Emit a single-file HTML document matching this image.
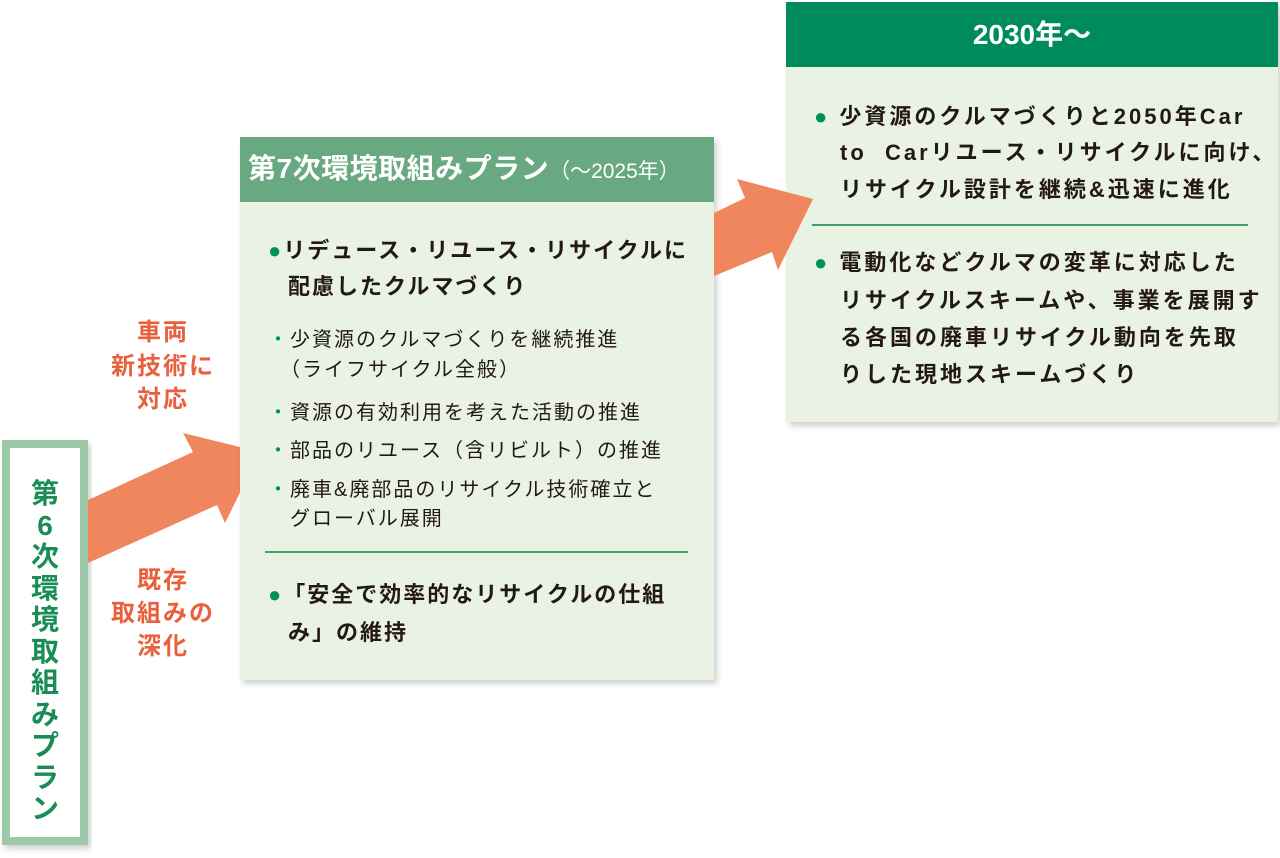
<!DOCTYPE html>
<html><head><meta charset="utf-8"><style>
body{margin:0;width:1280px;height:858px;background:#fff;position:relative;overflow:hidden;font-family:"Liberation Sans","Noto Sans CJK JP",sans-serif;}
.a{position:absolute;white-space:nowrap;line-height:1;}
.b{font-weight:bold;color:#231815;font-size:22px;letter-spacing:2px;}
.c{font-weight:bold;color:#231815;font-size:22px;letter-spacing:3px;}
.s{color:#231815;font-size:20px;letter-spacing:2px;}
.o{color:#e8603c;font-weight:bold;font-size:24px;letter-spacing:2px;width:124px;text-align:center;}
.dot{color:#00915a;}
</style></head><body>
<svg width="1280" height="858" style="position:absolute;left:0;top:0">
<defs><filter id="sh" x="-10%" y="-10%" width="120%" height="120%"><feDropShadow dx="3" dy="4" stdDeviation="3" flood-color="#000" flood-opacity="0.18"/></filter></defs>
<rect x="6" y="444" width="78" height="397" fill="#fff" stroke="#9ec9a8" stroke-width="8" filter="url(#sh)"/>
<polygon points="88,500 193,452 183,433 260,452 225,523 217,505 88,563" fill="#ef865e"/>
<rect x="240" y="137" width="474" height="543" fill="#eaf3e3" filter="url(#sh)"/>
<rect x="240" y="137" width="474" height="65" fill="#68a982"/>
<line x1="265" y1="552" x2="688" y2="552" stroke="#3fa06a" stroke-width="2"/>
<rect x="786" y="2" width="492" height="420" fill="#eaf3e3" filter="url(#sh)"/>
<rect x="786" y="2" width="492" height="65" fill="#008c5a"/>
<line x1="812" y1="225" x2="1248" y2="225" stroke="#3fa06a" stroke-width="2"/>
<polygon points="714,213 745,198 737,179 813,199 778,270 772,252 714,276" fill="#ef865e"/>
</svg>
<div class="a" style="left:30px;top:478px;width:30px;text-align:center;color:#1a8c55;font-weight:bold;font-size:28px;line-height:31.5px;white-space:normal">第<br>6<br>次<br>環<br>境<br>取<br>組<br>み<br>プ<br>ラ<br>ン</div>
<div class="a o" style="left:101px;top:316px;line-height:33.5px">車両<br>新技術に<br>対応</div>
<div class="a o" style="left:101px;top:564px;line-height:33px">既存<br>取組みの<br>深化</div>
<div class="a" style="left:248px;top:155px;color:#fff;font-size:28px;font-weight:bold;letter-spacing:0.5px">第7次環境取組みプラン<span style="font-weight:normal;font-size:21px;letter-spacing:0">（～2025年）</span></div>
<div class="a b" style="left:268px;top:240px"><span class="dot">●</span>リデュース・リユース・リサイクルに</div>
<div class="a b" style="left:288px;top:276px">配慮したクルマづくり</div>
<div class="a s" style="left:268px;top:330px"><span class="dot">・</span>少資源のクルマづくりを継続推進</div>
<div class="a s" style="left:280px;top:360px">（ライフサイクル全般）</div>
<div class="a s" style="left:268px;top:403px"><span class="dot">・</span>資源の有効利用を考えた活動の推進</div>
<div class="a s" style="left:268px;top:441px"><span class="dot">・</span>部品のリユース（含リビルト）の推進</div>
<div class="a s" style="left:268px;top:480px"><span class="dot">・</span>廃車&amp;廃部品のリサイクル技術確立と</div>
<div class="a s" style="left:290px;top:509px">グローバル展開</div>
<div class="a b" style="left:268px;top:584px"><span class="dot">●</span>「安全で効率的なリサイクルの仕組</div>
<div class="a b" style="left:288px;top:622px">み」の維持</div>
<div class="a" style="left:786px;top:21px;width:492px;text-align:center;color:#fff;font-size:28px;font-weight:bold">2030年～</div>
<div class="a c" style="left:814px;top:106px"><span class="dot">●</span> 少資源のクルマづくりと2050年Car</div>
<div class="a c" style="left:840px;top:142px">to&nbsp; Carリユース・リサイクルに向け、</div>
<div class="a c" style="left:840px;top:179px">リサイクル設計を継続&amp;迅速に進化</div>
<div class="a c" style="left:814px;top:252px"><span class="dot">●</span> 電動化などクルマの変革に対応した</div>
<div class="a c" style="left:840px;top:290px">リサイクルスキームや、事業を展開す</div>
<div class="a c" style="left:840px;top:327px">る各国の廃車リサイクル動向を先取</div>
<div class="a c" style="left:840px;top:364px">りした現地スキームづくり</div>
</body></html>
